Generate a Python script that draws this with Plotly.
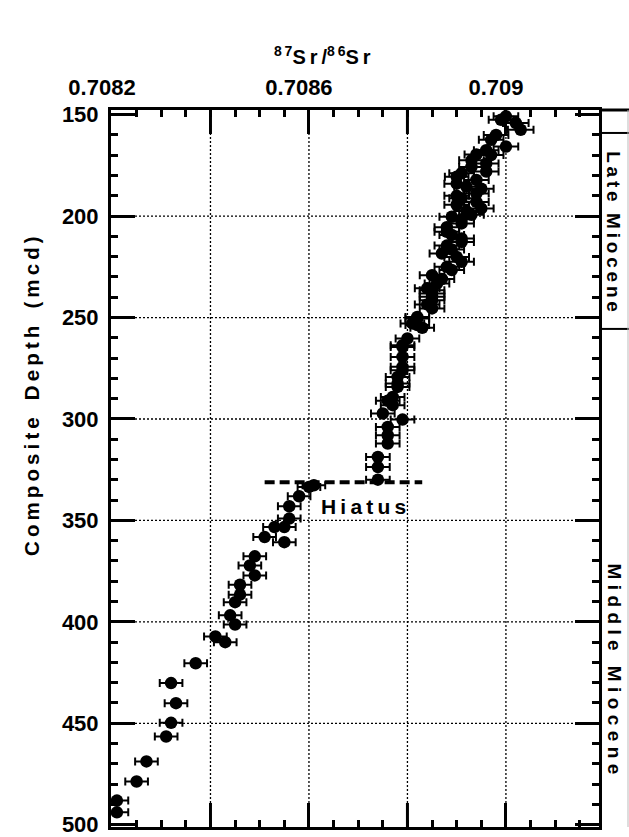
import plotly.graph_objects as go

# Composite depth (mcd) and measured 87Sr/86Sr with 2-sigma uncertainty
depth = [
    150.8, 152.5, 154.1, 157.4, 160.0, 162.4, 165.7, 167.5, 169.6, 169.9,
    172.5, 174.0, 175.8, 178.0, 178.8, 180.6, 182.2, 184.0, 185.5, 186.5,
    188.8, 190.0, 191.2, 193.0, 194.4, 196.2, 197.5, 199.3, 200.3, 201.5,
    203.6, 205.5, 207.7, 209.3, 211.0, 212.7, 214.5, 216.5, 218.4, 220.1,
    222.5, 225.0, 226.6, 229.1, 231.0, 233.2, 235.6, 236.5, 238.1, 239.8,
    241.5, 243.5, 245.5, 249.7, 250.4, 252.9, 253.7, 255.0, 260.3, 263.6,
    264.5, 269.4, 274.3, 276.0, 279.3, 282.5, 284.2, 289.1, 291.0, 293.2,
    297.3, 300.3, 303.9, 308.0, 312.1, 318.7, 323.7, 329.9,
    332.7, 333.5, 338.1, 343.0, 349.1, 353.3, 353.3, 358.2, 360.7, 367.7,
    372.2, 377.1, 381.7, 386.6, 390.3, 396.8, 401.3, 407.2, 410.0, 420.4,
    430.2, 440.1, 449.8, 456.5, 468.8, 478.7, 488.1, 493.9,
]
sr = [
    0.70900, 0.70899, 0.70902, 0.70903, 0.70898, 0.70897, 0.70900, 0.70896, 0.70894, 0.70897,
    0.70893, 0.70896, 0.70893, 0.70896, 0.70891, 0.70890, 0.70894, 0.70890, 0.70892, 0.70895,
    0.70894, 0.70890, 0.70891, 0.70894, 0.70890, 0.70895, 0.70892, 0.70893, 0.70889, 0.70891,
    0.70891, 0.70888, 0.70888, 0.70889, 0.70891, 0.70891, 0.70888, 0.70889, 0.70887, 0.70890,
    0.70891, 0.70888, 0.70889, 0.70885, 0.70887, 0.70886, 0.70884, 0.70885, 0.70885, 0.70885,
    0.70885, 0.70884, 0.70885, 0.70882, 0.70882, 0.70881, 0.70882, 0.70883, 0.70880, 0.70879,
    0.70879, 0.70879, 0.70879, 0.70879, 0.70878, 0.70878, 0.70878, 0.70877, 0.70876, 0.70877,
    0.70875, 0.70879, 0.70876, 0.70876, 0.70876, 0.70874, 0.70874, 0.70874,
    0.70861, 0.70860, 0.70858, 0.70856, 0.70856, 0.70853, 0.70855, 0.70851, 0.70855, 0.70849,
    0.70848, 0.70849, 0.70846, 0.70846, 0.70845, 0.70844, 0.70845, 0.70841, 0.70843, 0.70837,
    0.70832, 0.70833, 0.70832, 0.70831, 0.70827, 0.70825, 0.70821, 0.70821,
]
sr_err = [
    0.000025, 0.000025, 0.000026, 0.000026, 0.000025, 0.000025, 0.000025, 0.000025, 0.000024, 0.000025,
    0.000025, 0.000025, 0.000025, 0.000025, 0.000025, 0.000024, 0.000025, 0.000025, 0.000025, 0.000025,
    0.000025, 0.000025, 0.000025, 0.000025, 0.000025, 0.000025, 0.000025, 0.000025, 0.000025, 0.000025,
    0.000025, 0.000025, 0.000025, 0.000025, 0.000025, 0.000025, 0.000025, 0.000025, 0.000025, 0.000025,
    0.000025, 0.000025, 0.000025, 0.000025, 0.000025, 0.000025, 0.000025, 0.000025, 0.000025, 0.000025,
    0.000025, 0.000025, 0.000025, 0.000024, 0.000024, 0.000024, 0.000024, 0.000024, 0.000024, 0.000024,
    0.000024, 0.000024, 0.000024, 0.000024, 0.000024, 0.000024, 0.000024, 0.000024, 0.000024, 0.000024,
    0.000024, 0.000024, 0.000024, 0.000024, 0.000024, 0.000024, 0.000024, 0.000024,
    0.000023, 0.000023, 0.000023, 0.000023, 0.000023, 0.000023, 0.000023, 0.000023, 0.000023, 0.000023,
    0.000023, 0.000023, 0.000023, 0.000023, 0.000023, 0.000023, 0.000023, 0.000023, 0.000023, 0.000023,
    0.000023, 0.000023, 0.000023, 0.000023, 0.000023, 0.000023, 0.000023, 0.000023,
]

# Axis ticks and labels
x_labeled = [0.7082, 0.7086, 0.7090]
x_labels = ["0.7082", "0.7086", "0.709"]
x_unlabeled = [0.7084, 0.7088]
y_major = [150, 200, 250, 300, 350, 400, 450, 500]
y_labels = ["150", "200", "250", "300", "350", "400", "450", "500"]
grid_x = [0.7084, 0.7086, 0.7088, 0.7090]
grid_y = [200, 250, 300, 350, 400, 450]

# Epoch column and hiatus
epoch_bounds = [159.0, 255.6]
epoch_names = [
    "\u2009".join("Late") + "\u2009\u2009\u2009" + "\u2009".join("Miocene"),
    "\u2009\u200a".join("Middle") + "\u2009\u2009\u2009\u2009" + "\u2009\u200a".join("Miocene"),
]
epoch_mid = [207.4, 423.0]
hiatus_depth = 331.2
hiatus_span = [0.70851, 0.70883]

FONT = "Liberation Sans, Arial, sans-serif"
PLOT_W, PLOT_H = 488, 717
BOX_W = 30 / PLOT_W          # width of the epoch column in paper units
MAJOR_LEN = 24               # long tick length in px

fig = go.Figure()

fig.add_trace(go.Scatter(
    x=sr, y=depth, mode="markers",
    marker=dict(color="black", size=12.5, line=dict(width=0)),
    error_x=dict(type="data", array=sr_err, color="black", thickness=2, width=4),
    showlegend=False, hoverinfo="skip",
))

shapes = []
for gx in grid_x:
    shapes.append(dict(type="line", xref="x", yref="paper", x0=gx, x1=gx, y0=0, y1=1,
                       line=dict(color="black", width=1.3, dash="2px,2px"), layer="below"))
for gy in grid_y:
    shapes.append(dict(type="line", xref="paper", yref="y", x0=0, x1=1, y0=gy, y1=gy,
                       line=dict(color="black", width=1.3, dash="2px,2px"), layer="below"))

# long unlabeled ticks on the top and bottom edges
for ux in x_unlabeled:
    for y0, y1 in ((1, 1 - MAJOR_LEN / PLOT_H), (0, MAJOR_LEN / PLOT_H)):
        shapes.append(dict(type="line", xref="x", yref="paper", x0=ux, x1=ux, y0=y0, y1=y1,
                           line=dict(color="black", width=3)))

# hiatus marker
shapes.append(dict(type="line", xref="x", yref="y", x0=hiatus_span[0], x1=hiatus_span[1],
                   y0=hiatus_depth, y1=hiatus_depth,
                   line=dict(color="black", width=4, dash="10px,5px")))

# epoch column to the right of the plot
shapes.append(dict(type="line", xref="paper", yref="paper", x0=1, x1=1 + BOX_W, y0=1, y1=1,
                   line=dict(color="black", width=3)))
for b in epoch_bounds:
    shapes.append(dict(type="line", xref="paper", yref="y", x0=1, x1=1 + BOX_W, y0=b, y1=b,
                       line=dict(color="black", width=2)))
shapes.append(dict(type="line", xref="paper", yref="paper", x0=1 + 29 / PLOT_W, x1=1 + 29 / PLOT_W,
                   y0=0, y1=1, line=dict(color="#bbbbbb", width=1)))

annotations = []
for name, mid in zip(epoch_names, epoch_mid):
    annotations.append(dict(text=name, xref="paper", yref="y", x=1 + 15 / PLOT_W, y=mid,
                            xanchor="center", yanchor="middle",
                            textangle=90, showarrow=False,
                            font=dict(family=FONT, size=19, color="black", weight="bold")))

annotations.append(dict(text="H\u2009i\u2009a\u2009t\u2009u\u2009s", xref="x", yref="y",
                        x=0.708711, y=343.3, xanchor="center", yanchor="middle", showarrow=False,
                        font=dict(family=FONT, size=21, color="black", weight="bold")))

annotations.append(dict(
    text="\u2009".join("Composite") + "\u00a0\u00a0 " + "\u2009".join("Depth")
         + "\u00a0\u00a0 " + "\u2009".join("(mcd)"),
    xref="paper", yref="paper", x=(31 - 111) / PLOT_W, y=1 - (396 - 110) / PLOT_H,
    xanchor="center", yanchor="middle",
    textangle=-90, showarrow=False,
    font=dict(family=FONT, size=20.5, color="black", weight="bold")))

annotations.append(dict(
    text="<sup>8\u20097</sup>S\u2009r\u2009/<sup>8\u20096</sup>S\u2009r",
    xref="paper", yref="paper", x=(322 - 111) / PLOT_W, y=1 + (110 - 55) / PLOT_H,
    xanchor="center", yanchor="middle", showarrow=False,
    font=dict(family=FONT, size=20, color="black", weight="bold")))

axis_common = dict(
    showline=True, linecolor="black", linewidth=3, mirror="allticks",
    ticks="inside", ticklen=MAJOR_LEN, tickwidth=3, tickcolor="black",
    showgrid=False, zeroline=False, automargin=False, ticklabeloverflow="allow",
    tickfont=dict(family=FONT, size=22, color="black", weight="bold"),
)

fig.update_layout(
    width=629, height=837,
    margin=dict(l=111, r=30, t=110, b=10),
    paper_bgcolor="white", plot_bgcolor="white",
    shapes=shapes, annotations=annotations,
    xaxis=dict(
        side="top", range=[0.708198, 0.709189],
        tickmode="array", tickvals=x_labeled, ticktext=x_labels,
        ticklabelstandoff=3, ticklabelshift=-10,
        minor=dict(tick0=0.7082, dtick=0.00005, ticks="inside", ticklen=7,
                   tickwidth=3, tickcolor="black", showgrid=False),
        **axis_common,
    ),
    yaxis=dict(
        range=[501.13, 147.68],
        tickmode="array", tickvals=y_major, ticktext=y_labels,
        ticklabelstandoff=5,
        minor=dict(tick0=150, dtick=10, ticks="inside", ticklen=7,
                   tickwidth=3, tickcolor="black", showgrid=False),
        **axis_common,
    ),
)

fig.write_html("out.html")
